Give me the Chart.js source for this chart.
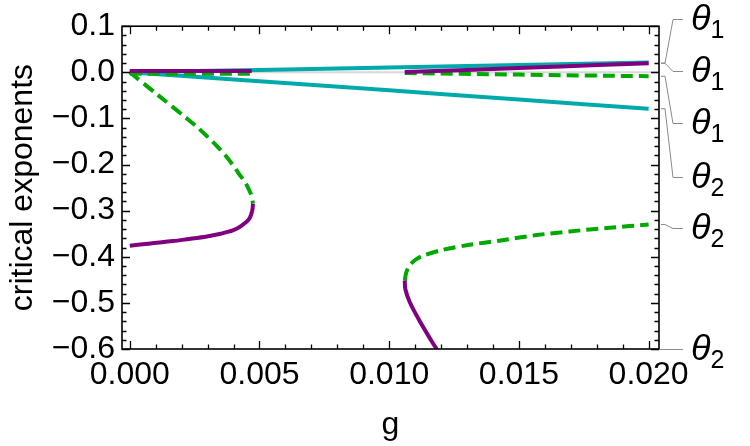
<!DOCTYPE html>
<html>
<head>
<meta charset="utf-8">
<script src="https://cdn.jsdelivr.net/npm/chart.js@4.4.1/dist/chart.umd.min.js"></script>
<style>
  html, body { margin: 0; padding: 0; background: #fff; }
  #wrap { width: 750px; height: 446px; }
</style>
</head>
<body>
<div id="wrap"><canvas id="myChart" width="750" height="446"></canvas></div>
<script>
// tick values
const xTicks = [0, 0.005, 0.01, 0.015, 0.02];
const yTicks = [-0.6, -0.5, -0.4, -0.3, -0.2, -0.1, 0, 0.1];

// cyan lines from the origin
const cyanUpG = [0, 0.005, 0.01, 0.015, 0.02];
const cyanUpT = [0, 0.0052, 0.0104, 0.0158, 0.0215];
const cyanLowG = [0, 0.005, 0.01, 0.015, 0.02];
const cyanLowT = [0, -0.0195, -0.039, -0.059, -0.079];

// purple (solid) branches
const purTopLG = [0, 0.0024, 0.0047];
const purTopLT = [0.003, 0.003, 0.003];
const purTopRG = [0.0106, 0.013, 0.0155, 0.0178, 0.02];
const purTopRT = [0.0005, 0.005, 0.0103, 0.0152, 0.0198];
const purLowLG = [0.00475, 0.00472, 0.0046, 0.0043, 0.00397, 0.0035, 0.00297, 0.0022, 0.00166, 0.0008, 0];
const purLowLT = [-0.285, -0.300, -0.318, -0.333, -0.343, -0.350, -0.356, -0.362, -0.366, -0.371, -0.376];
const purLowRG = [0.0106, 0.01062, 0.01079, 0.01118, 0.01156, 0.01187];
const purLowRT = [-0.451, -0.47, -0.498, -0.54, -0.576, -0.604];

// green (dashed) branches
const grnTopLG = [0, 0.0047];
const grnTopLT = [-0.003, -0.003];
const grnTopRG = [0.0106, 0.015, 0.02];
const grnTopRT = [-0.0015, -0.005, -0.0085];
const grnLowLG = [0, 0.0011, 0.0022, 0.00262, 0.003, 0.00336, 0.00368, 0.00396, 0.00421, 0.00446, 0.00464, 0.0047, 0.00475];
const grnLowLT = [0, -0.05, -0.1, -0.12, -0.14, -0.16, -0.18, -0.2, -0.22, -0.24, -0.26, -0.27, -0.285];
const grnLowRG = [0.0106, 0.01066, 0.01079, 0.0110, 0.01129, 0.01206, 0.0131, 0.01437, 0.01568, 0.01696, 0.0185, 0.02];
const grnLowRT = [-0.451, -0.434, -0.419, -0.407, -0.398, -0.385, -0.374, -0.364, -0.353, -0.345, -0.337, -0.330];

// labels on the right, top to bottom
const labelNames = ['θ', 'θ', 'θ', 'θ', 'θ', 'θ'];
const labelSubs = ['1', '1', '1', '2', '2', '2'];

function pts(gs, ts) {
    return gs.map(function (g, i) { return { x: g, y: ts[i] }; });
}

const cyan = '#00aaaa';
const purple = '#800080';
const green = '#00a800';

function serie(gs, ts, cor, dash) {
    return {
        data: pts(gs, ts),
        borderColor: cor,
        borderWidth: 4,
        borderDash: dash ? [12, 6] : [],
        showLine: true,
        pointRadius: 0,
        tension: 0.3,
        fill: false
    };
}

// first dataset ends up on top
const dados = {
    datasets: [
        serie(purTopLG, purTopLT, purple, false),
        serie(purTopRG, purTopRT, purple, false),
        serie(purLowLG, purLowLT, purple, false),
        serie(purLowRG, purLowRT, purple, false),
        serie(grnTopLG, grnTopLT, green, true),
        serie(grnTopRG, grnTopRT, green, true),
        serie(grnLowLG, grnLowLT, green, true),
        serie(grnLowRG, grnLowRT, green, true),
        serie(cyanUpG, cyanUpT, cyan, false),
        serie(cyanLowG, cyanLowT, cyan, false)
    ]
};

// frame with inward ticks, zero line, leaders and labels
const moldura = {
    id: 'moldura',
    beforeDatasetsDraw(chart) {
        const ctx = chart.ctx;
        const xs = chart.scales.x, ys = chart.scales.y;
        const y0 = ys.getPixelForValue(0);
        ctx.save();
        ctx.strokeStyle = '#d8d8d8';
        ctx.lineWidth = 2;
        ctx.beginPath();
        ctx.moveTo(xs.getPixelForValue(0), y0);
        ctx.lineTo(chart.chartArea.right, y0);
        ctx.stroke();
        ctx.restore();
    },
    afterDraw(chart) {
        const ctx = chart.ctx;
        const a = chart.chartArea;
        const xs = chart.scales.x, ys = chart.scales.y;
        ctx.save();
        ctx.strokeStyle = '#000';
        ctx.lineWidth = 1.6;
        ctx.strokeRect(a.left, a.top, a.right - a.left, a.bottom - a.top);
        ctx.lineWidth = 1.3;
        ctx.beginPath();
        for (let i = 0; i <= 20; i++) {
            const v = i * 0.001;
            const px = Math.round(xs.getPixelForValue(v)) + 0.5;
            const len = (i % 5 === 0) ? 8 : 4.5;
            ctx.moveTo(px, a.bottom); ctx.lineTo(px, a.bottom - len);
            ctx.moveTo(px, a.top); ctx.lineTo(px, a.top + len);
        }
        for (let i = 0; i <= 35; i++) {
            const v = -0.6 + i * 0.02;
            const py = Math.round(ys.getPixelForValue(v)) + 0.5;
            const len = (i % 5 === 0) ? 8 : 4.5;
            ctx.moveTo(a.left, py); ctx.lineTo(a.left + len, py);
            ctx.moveTo(a.right, py); ctx.lineTo(a.right - len, py);
        }
        ctx.stroke();

        // leaders: start at curve end, end at label
        const starts = [
            ys.getPixelForValue(purTopRT[purTopRT.length - 1]),
            ys.getPixelForValue(purTopRT[purTopRT.length - 1]),
            ys.getPixelForValue(grnTopRT[grnTopRT.length - 1]),
            ys.getPixelForValue(cyanLowT[cyanLowT.length - 1]),
            ys.getPixelForValue(grnLowRT[grnLowRT.length - 1]),
            a.bottom
        ];
        const ends = [19, 71, 123, 177, 228, 349];
        ctx.strokeStyle = '#8a8a8a';
        ctx.lineWidth = 1;
        for (let i = 0; i < starts.length; i++) {
            ctx.beginPath();
            if (i === 5) {
                ctx.moveTo(a.right, ends[i] + 0.5);
                ctx.lineTo(a.right + 24, ends[i] + 0.5);
            } else {
                ctx.moveTo(a.right + 2, starts[i]);
                ctx.lineTo(a.right + 6, starts[i]);
                ctx.lineTo(a.right + 14, ends[i] + 0.5);
                ctx.lineTo(a.right + 24, ends[i] + 0.5);
            }
            ctx.stroke();
        }
        ctx.fillStyle = '#000';
        ctx.textBaseline = 'middle';
        ctx.textAlign = 'left';
        for (let i = 0; i < labelNames.length; i++) {
            ctx.font = 'italic 36px "Liberation Sans", Arial, sans-serif';
            ctx.fillText(labelNames[i], a.right + 32, ends[i] + 1);
            const w = ctx.measureText(labelNames[i]).width;
            ctx.font = '25px "Liberation Sans", Arial, sans-serif';
            ctx.fillText(labelSubs[i], a.right + 32 + w, ends[i] + 12);
        }
        ctx.restore();
    }
};

const fonte = { family: '"Liberation Sans", Arial, sans-serif', size: 32 };

const config = {
    type: 'scatter',
    data: dados,
    options: {
        responsive: false,
        animation: false,
        layout: { padding: { left: 0, right: 91, top: 19, bottom: 0 } },
        plugins: { legend: { display: false }, tooltip: { enabled: false } },
        scales: {
            x: {
                type: 'linear',
                min: -0.0003,
                max: 0.0204,
                grid: { display: false, drawTicks: false },
                border: { display: false },
                afterBuildTicks: function (s) { s.ticks = xTicks.map(function (v) { return { value: v }; }); },
                afterFit: function (s) { s.height = 97; },
                ticks: {
                    color: '#000',
                    font: fonte,
                    padding: 7,
                    maxRotation: 0,
                    autoSkip: false,
                    callback: function (v) { return v.toFixed(3); }
                },
                title: { display: true, text: 'g', color: '#000', font: { family: fonte.family, size: 32 }, padding: { top: 0, bottom: 2 } }
            },
            y: {
                type: 'linear',
                min: -0.6,
                max: 0.1,
                grid: { display: false, drawTicks: false },
                border: { display: false },
                afterBuildTicks: function (s) { s.ticks = yTicks.map(function (v) { return { value: v }; }); },
                afterFit: function (s) { s.width = 122; },
                ticks: {
                    color: '#000',
                    font: fonte,
                    padding: 7,
                    autoSkip: false,
                    callback: function (v) { return v.toFixed(1).replace('-', '\u2212'); }
                },
                title: { display: true, text: 'critical exponents', color: '#000', font: { family: fonte.family, size: 32 }, padding: { top: 4, bottom: 0 } }
            }
        }
    },
    plugins: [moldura]
};

const ctx = document.getElementById('myChart');
const myChart = new Chart(ctx, config);
</script>
</body>
</html>
